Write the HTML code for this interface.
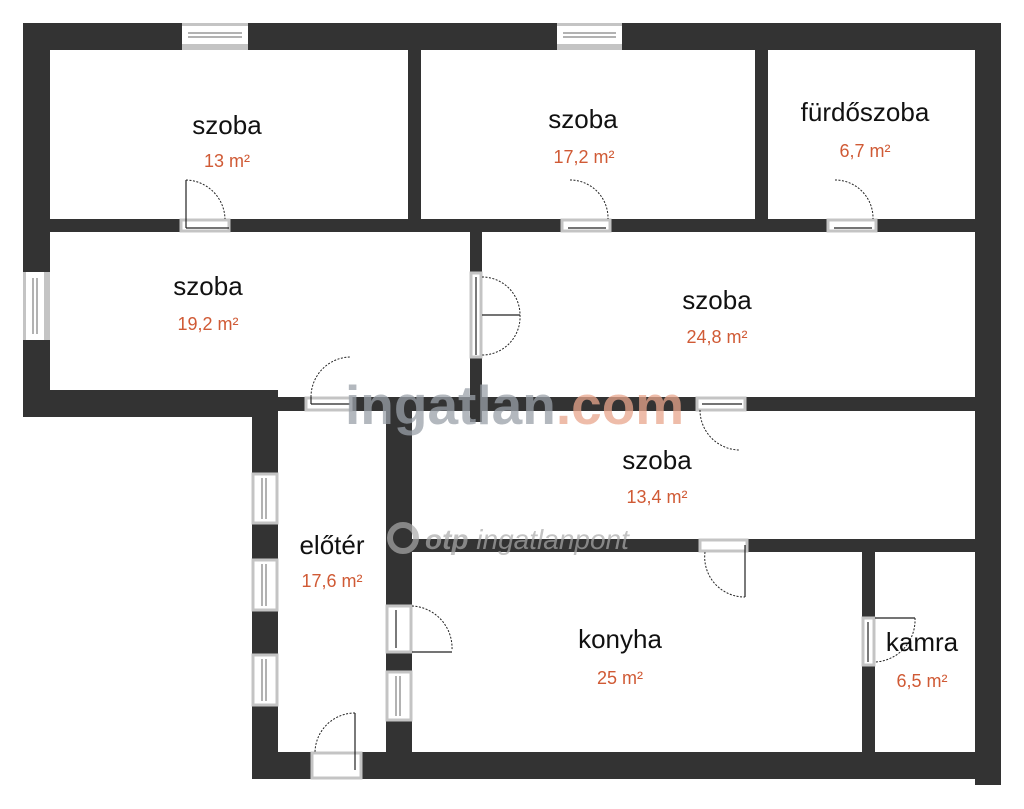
<!DOCTYPE html>
<html><head><meta charset="utf-8"><style>
html,body{margin:0;padding:0;background:#fff;width:1024px;height:809px;overflow:hidden}
svg{display:block}
.l{font-family:"Liberation Sans",sans-serif;font-size:26px;fill:#111;text-anchor:middle}
.a{font-family:"Liberation Sans",sans-serif;font-size:18px;fill:#d05a35;text-anchor:middle}
.arc{fill:none;stroke:#222;stroke-width:1;stroke-dasharray:2 1.5}
.leaf{stroke:#222;stroke-width:1.2}
.fr{fill:#fff;stroke:#c4c4c4;stroke-width:3}
</style></head><body>
<svg width="1024" height="809" viewBox="0 0 1024 809">
<g fill="#333333">
<rect x="23" y="23" width="978" height="27"/>
<rect x="23" y="23" width="27" height="394"/>
<rect x="975" y="23" width="26" height="762"/>
<rect x="23" y="390" width="255" height="27"/>
<rect x="252" y="391" width="26" height="388"/>
<rect x="252" y="752" width="749" height="27"/>
<rect x="408" y="50" width="13" height="169"/>
<rect x="755" y="50" width="13" height="169"/>
<rect x="50" y="219" width="925" height="13"/>
<rect x="470" y="232" width="12" height="190"/>
<rect x="278" y="397" width="697" height="14"/>
<rect x="386" y="410" width="26" height="342"/>
<rect x="412" y="539" width="563" height="13"/>
<rect x="862" y="552" width="13" height="200"/>
</g>
<g>
<rect x="182" y="24" width="66" height="25" fill="#fff"/><rect x="182" y="44" width="66" height="6" fill="#c4c4c4"/><rect x="182" y="23" width="66" height="3" fill="#c4c4c4"/>
<line x1="188" y1="33" x2="242" y2="33" stroke="#666"/><line x1="188" y1="37" x2="242" y2="37" stroke="#666"/>
<rect x="557" y="24" width="65" height="25" fill="#fff"/><rect x="557" y="44" width="65" height="6" fill="#c4c4c4"/><rect x="557" y="23" width="65" height="3" fill="#c4c4c4"/>
<line x1="563" y1="33" x2="616" y2="33" stroke="#666"/><line x1="563" y1="37" x2="616" y2="37" stroke="#666"/>
<rect x="24" y="272" width="25" height="68" fill="#fff"/><rect x="44" y="272" width="6" height="68" fill="#c4c4c4"/><rect x="23" y="272" width="3" height="68" fill="#c4c4c4"/>
<line x1="33" y1="278" x2="33" y2="334" stroke="#666"/><line x1="37" y1="278" x2="37" y2="334" stroke="#666"/>
</g>
<g>
<rect x="253" y="474" width="24" height="49" class="fr"/><line x1="262" y1="478" x2="262" y2="519" stroke="#666"/><line x1="266" y1="478" x2="266" y2="519" stroke="#666"/>
<rect x="253" y="560" width="24" height="50" class="fr"/><line x1="262" y1="564" x2="262" y2="606" stroke="#666"/><line x1="266" y1="564" x2="266" y2="606" stroke="#666"/>
<rect x="253" y="655" width="24" height="50" class="fr"/><line x1="262" y1="659" x2="262" y2="701" stroke="#666"/><line x1="266" y1="659" x2="266" y2="701" stroke="#666"/>
<rect x="387" y="672" width="24" height="48" class="fr"/><line x1="396" y1="676" x2="396" y2="716" stroke="#666"/><line x1="400" y1="676" x2="400" y2="716" stroke="#666"/>
</g>
<g>
<rect x="181" y="220" width="48" height="11" class="fr"/>
<rect x="562" y="220" width="48" height="11" class="fr"/>
<rect x="828" y="220" width="48" height="11" class="fr"/>
<rect x="471" y="273" width="10" height="84" class="fr"/>
<rect x="306" y="398" width="45" height="12" class="fr"/>
<rect x="697" y="398" width="48" height="12" class="fr"/>
<rect x="700" y="540" width="47" height="11" class="fr"/>
<rect x="387" y="606" width="24" height="46" class="fr"/>
<rect x="863" y="618" width="11" height="47" class="fr"/>
<rect x="312" y="753" width="49" height="25" class="fr"/>
</g>
<g>
<line class="leaf" x1="186" y1="180" x2="186" y2="228"/><line class="leaf" x1="186" y1="228" x2="229" y2="228"/><path class="arc" d="M186 180 A40 40 0 0 1 225 219"/>
<line class="leaf" x1="568" y1="228" x2="606" y2="228"/><path class="arc" d="M570 180 A38 38 0 0 1 608 219"/>
<line class="leaf" x1="834" y1="228" x2="872" y2="228"/><path class="arc" d="M835 180 A38 38 0 0 1 873 219"/>
<line class="leaf" x1="482" y1="315" x2="520" y2="315"/><path class="arc" d="M482 277 A38 38 0 0 1 520 315 A38 38 0 0 1 482 355"/>
<line class="leaf" x1="476" y1="277" x2="476" y2="355"/>
<line class="leaf" x1="311" y1="397" x2="311" y2="404"/><line class="leaf" x1="311" y1="404" x2="350" y2="404"/><path class="arc" d="M311 397 A40 40 0 0 1 350 357"/>
<line class="leaf" x1="702" y1="404" x2="742" y2="404"/><path class="arc" d="M700 410 A40 40 0 0 0 740 450"/>
<line class="leaf" x1="745" y1="545" x2="745" y2="597"/><path class="arc" d="M705 552 A40 40 0 0 0 745 597"/>
<line class="leaf" x1="412" y1="652" x2="452" y2="652"/><line class="leaf" x1="396" y1="610" x2="396" y2="648"/><path class="arc" d="M412 606 A42 42 0 0 1 452 650"/>
<line class="leaf" x1="875" y1="618" x2="915" y2="618"/><line class="leaf" x1="868" y1="622" x2="868" y2="662"/><path class="arc" d="M915 618 A42 42 0 0 1 875 662"/>
<line class="leaf" x1="355" y1="713" x2="355" y2="770"/><path class="arc" d="M355 713 A40 40 0 0 0 315 752"/>
</g>
<text x="345" y="424" font-family="Liberation Sans,sans-serif" font-weight="bold" font-size="55" fill="#9aa0a8" fill-opacity="0.75">ingatlan<tspan fill="#e8a58c">.com</tspan></text>
<circle cx="403" cy="538" r="13" fill="none" stroke="#aaa" stroke-width="6" stroke-opacity="0.7"/>
<text x="425" y="549" font-family="Liberation Sans,sans-serif" font-style="italic" font-size="28" fill="#aaa" fill-opacity="0.7"><tspan font-weight="bold">otp</tspan> ingatlanpont</text>
<text class="l" x="227" y="134">szoba</text><text class="a" x="227" y="167">13 m²</text>
<text class="l" x="583" y="128">szoba</text><text class="a" x="584" y="163">17,2 m²</text>
<text class="l" x="865" y="121">fürdőszoba</text><text class="a" x="865" y="157">6,7 m²</text>
<text class="l" x="208" y="295">szoba</text><text class="a" x="208" y="330">19,2 m²</text>
<text class="l" x="717" y="309">szoba</text><text class="a" x="717" y="343">24,8 m²</text>
<text class="l" x="657" y="469">szoba</text><text class="a" x="657" y="503">13,4 m²</text>
<text class="l" x="332" y="554">előtér</text><text class="a" x="332" y="587">17,6 m²</text>
<text class="l" x="620" y="648">konyha</text><text class="a" x="620" y="684">25 m²</text>
<text class="l" x="922" y="651">kamra</text><text class="a" x="922" y="687">6,5 m²</text>
</svg>
</body></html>
